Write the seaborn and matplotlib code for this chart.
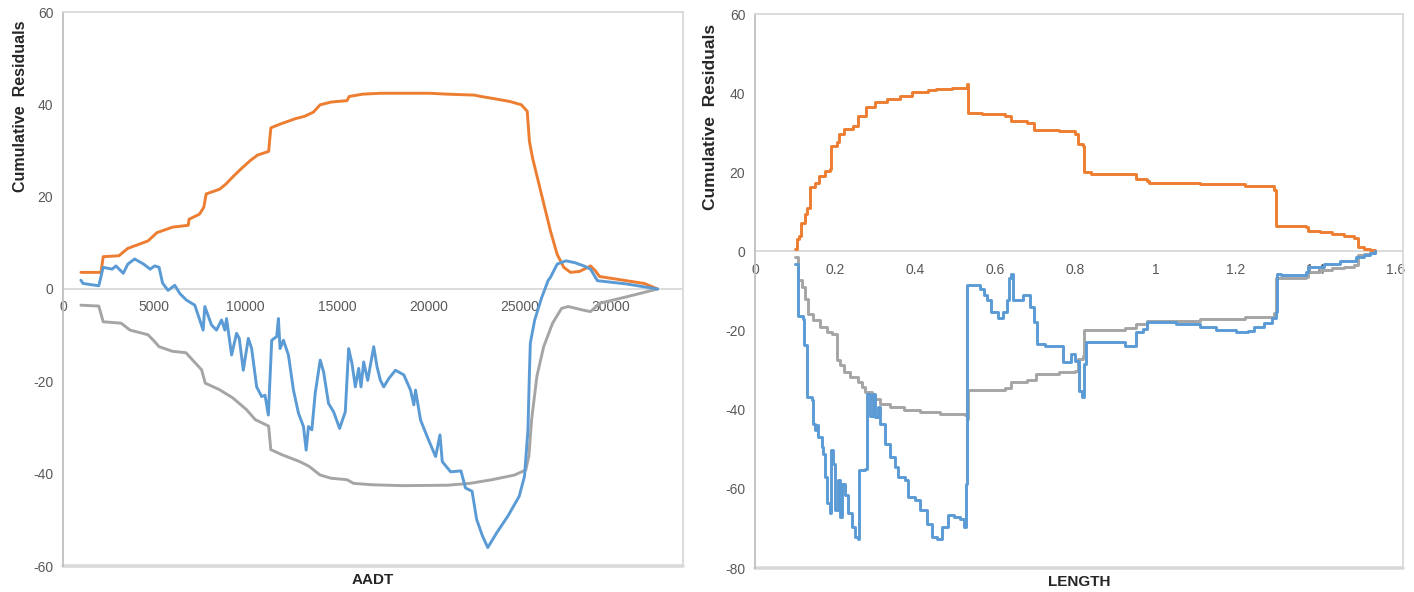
import numpy as np
import pandas as pd
import matplotlib
matplotlib.use("Agg")
import matplotlib.pyplot as plt
import seaborn as sns

# ---------------- data: left panel (AADT) ----------------
aadt_upper_x = [980, 2080, 2200, 3060, 3550, 4650, 5140, 6000, 6860, 6900, 7470, 7710, 7840, 8570,
                8940, 9300, 9800, 10280, 10650, 11260, 11380, 11880, 12730, 13220, 13710, 14080,
                14690, 15550, 15670, 16400, 17380, 20080, 21060, 22530, 22890, 23500, 24490, 25100,
                25420, 25540, 25710, 26200, 26690, 27060, 27420, 27790, 28280, 28890, 29140, 29380,
                30850, 31830, 32560]
aadt_upper_y = [3.6, 3.6, 7.0, 7.2, 8.8, 10.4, 12.2, 13.4, 13.8, 15.1, 16.2, 17.7, 20.6, 21.6,
                22.8, 24.3, 26.2, 27.9, 29.0, 29.8, 34.9, 35.7, 36.9, 37.4, 38.3, 39.9,
                40.5, 40.8, 41.7, 42.2, 42.4, 42.4, 42.2, 42.0, 41.7, 41.3, 40.6, 39.9,
                38.5, 32.0, 28.4, 20.5, 12.6, 7.5, 4.7, 3.6, 3.8, 5.0, 4.0, 2.7,
                1.8, 1.2, 0.0]

aadt_lower_x = [980, 1960, 2200, 3180, 3670, 4650, 5020, 5260, 6000, 6730, 7100, 7590, 7790, 8570,
                9300, 10040, 10530, 11260, 11380, 11990, 12970, 13470, 14080, 14690, 15550, 15910,
                16890, 18610, 21060, 22280, 23500, 24720, 25340, 25510, 25660, 25950, 26320, 26810,
                27300, 27670, 28400, 28890, 29380, 30850, 32560]
aadt_lower_y = [-3.5, -3.7, -7.1, -7.4, -8.9, -9.9, -11.4, -12.5, -13.5, -13.8, -15.4, -17.5, -20.4, -21.8,
                -23.6, -26.1, -28.3, -29.7, -34.8, -35.9, -37.4, -38.4, -40.3, -41.0, -41.3, -42.1,
                -42.4, -42.6, -42.5, -42.1, -41.3, -40.3, -39.2, -36.2, -28.3, -18.9, -12.5, -7.4,
                -4.2, -3.8, -4.5, -4.9, -3.1, -1.7, 0.0]

aadt_cure_x = [980, 1100, 1960, 2200, 2690, 2900, 3300, 3550, 3920, 4410, 4775, 5020, 5260, 5450,
               5750, 6120, 6400, 6758, 7216, 7674, 7766, 8132, 8407, 8681, 8864, 8956, 9231, 9505,
               9652, 9872, 10147, 10330, 10604, 10879, 11062, 11245, 11429, 11703, 11795, 11886,
               12070, 12344, 12619, 12894, 13168, 13315, 13443, 13626, 13810, 14084, 14267, 14542,
               14817, 15147, 15458, 15641, 15824, 16007, 16190, 16319, 16465, 16685, 16832, 17015,
               17198, 17381, 17564, 17839, 18205, 18663, 19029, 19212, 19304, 19579, 19945, 20403,
               20641, 20769, 21227, 21790, 22040, 22400, 22650, 22970, 23260, 23750, 24360, 24980,
               25270, 25460, 25540, 25590, 25830, 26200, 26570, 26690, 27060, 27540, 28030, 28520,
               28890, 29260, 30850, 32560]
aadt_cure_y = [1.9, 1.2, 0.7, 4.7, 4.3, 5.0, 3.4, 5.4, 6.5, 5.4, 4.3, 5.0, 4.7, 1.3,
               -0.3, 0.8, -1.0, -2.4, -3.5, -8.9, -3.8, -7.8, -8.9, -6.7, -8.9, -6.4, -14.3, -9.6,
               -10.7, -17.6, -10.7, -12.9, -21.2, -23.3, -23.0, -27.3, -11.1, -10.3, -6.4, -12.9,
               -11.1, -14.3, -21.9, -26.9, -29.8, -34.9, -29.8, -30.5, -22.6, -15.4, -17.9, -24.8,
               -26.6, -30.2, -26.6, -12.9, -16.1, -21.2, -17.2, -21.2, -15.8, -19.8, -16.5, -12.5,
               -16.9, -19.8, -21.2, -19.4, -17.6, -18.6, -21.9, -25.1, -21.9, -28.4, -32.0, -36.3,
               -31.6, -37.4, -39.6, -39.4, -43.1, -43.8, -49.9, -53.5, -56.0, -52.8, -49.2, -44.9,
               -40.6, -30.5, -18.2, -11.7, -6.7, -2.0, 1.9, 2.5, 5.4, 6.1, 5.7, 5.0,
               4.3, 1.8, 1.1, 0.0]

# ---------------- data: right panel (LENGTH) ----------------
len_upper_x = [0.100, 0.104, 0.111, 0.116, 0.125, 0.130, 0.138, 0.150, 0.161, 0.176, 0.187, 0.190,
               0.204, 0.210, 0.221, 0.244, 0.258, 0.278, 0.300, 0.329, 0.363, 0.391, 0.431, 0.453,
               0.493, 0.521, 0.530, 0.533, 0.567, 0.623, 0.640, 0.680, 0.697, 0.759, 0.799, 0.807,
               0.819, 0.821, 0.839, 0.924, 0.952, 0.980, 0.983, 1.110, 1.223, 1.297, 1.301, 1.377,
               1.382, 1.410, 1.440, 1.470, 1.496, 1.505, 1.520, 1.535, 1.547]
len_upper_y = [0.6, 3.1, 4.0, 7.3, 9.4, 11.1, 16.2, 17.4, 19.1, 20.4, 20.8, 26.7,
               27.6, 29.7, 30.9, 31.8, 34.3, 36.4, 37.7, 38.5, 39.4, 40.2, 40.8, 41.1,
               41.3, 41.3, 42.3, 34.9, 34.7, 34.3, 32.9, 32.4, 30.7, 30.5, 29.8, 27.1,
               26.7, 20.0, 19.6, 19.6, 18.3, 17.9, 17.4, 17.0, 16.6, 15.5, 6.5, 6.1,
               5.2, 4.8, 4.3, 3.9, 3.4, 1.0, 0.6, 0.3, 0.0]

len_lower_x = [0.100, 0.108, 0.117, 0.125, 0.133, 0.146, 0.1625, 0.179, 0.192, 0.204, 0.2125, 0.221,
               0.2375, 0.258, 0.267, 0.275, 0.292, 0.3125, 0.3375, 0.371, 0.4125, 0.4625, 0.525, 0.529,
               0.531, 0.567, 0.623, 0.640, 0.680, 0.701, 0.759, 0.799, 0.807, 0.819, 0.821, 0.924, 0.952,
               0.980, 1.110, 1.223, 1.297, 1.301, 1.377, 1.382, 1.410, 1.440, 1.470, 1.496, 1.505,
               1.520, 1.535, 1.547]
len_lower_y = [-1.4, -7.3, -9.0, -12.0, -15.7, -17.4, -19.1, -20.4, -20.8, -27.5, -28.8, -30.5,
               -31.7, -33.0, -34.3, -35.5, -37.2, -38.5, -39.3, -40.0, -40.6, -41.0, -41.4, -42.3,
               -35.1, -34.9, -34.5, -33.1, -32.6, -31.0, -30.5, -30.1, -27.2, -26.3, -19.8, -19.4, -18.3,
               -17.5, -17.0, -16.6, -15.5, -6.6, -6.4, -5.3, -4.8, -4.3, -3.9, -3.4, -1.0,
               -0.6, -0.3, 0.0]

len_cure_x = [0.100, 0.108, 0.121, 0.1225, 0.129, 0.131, 0.142, 0.144, 0.150, 0.154, 0.158, 0.167,
              0.171, 0.175, 0.181, 0.188, 0.189, 0.196, 0.200, 0.206, 0.2125, 0.217, 0.225, 0.233,
              0.242, 0.250, 0.258, 0.260, 0.275, 0.279, 0.2875, 0.294, 0.300, 0.306, 0.3125, 0.325,
              0.3375, 0.350, 0.358, 0.375, 0.383, 0.400, 0.4125, 0.429, 0.442, 0.454, 0.467, 0.483,
              0.496, 0.5125, 0.521, 0.5275, 0.529, 0.561, 0.572, 0.580, 0.589, 0.606, 0.618, 0.629,
              0.634, 0.640, 0.643, 0.669, 0.686, 0.697, 0.703, 0.725, 0.759, 0.770, 0.788, 0.799,
              0.810, 0.816, 0.821, 0.827, 0.861, 0.924, 0.952, 0.969, 0.980, 0.997, 1.050, 1.110,
              1.150, 1.201, 1.230, 1.246, 1.270, 1.290, 1.301, 1.303, 1.314, 1.377, 1.382, 1.420,
              1.460, 1.501, 1.520, 1.535, 1.547]
len_cure_y = [-3.1, -16.2, -17.0, -23.7, -24.6, -36.8, -37.6, -43.5, -45.2, -43.9, -46.9, -49.4,
              -51.1, -57.0, -63.7, -66.2, -50.3, -53.6, -65.4, -57.8, -67.1, -58.7, -61.6, -66.2,
              -69.6, -72.1, -72.6, -55.3, -54.9, -36.0, -41.5, -36.0, -41.9, -39.4, -43.5, -48.6,
              -52.0, -54.5, -57.0, -57.8, -62.0, -62.9, -65.4, -68.8, -72.1, -72.6, -69.6, -66.7,
              -67.1, -67.5, -69.6, -58.7, -8.6, -9.5, -11.0, -12.4, -15.4, -16.8, -15.4, -12.4,
              -6.6, -5.6, -12.4, -11.1, -14.1, -17.9, -23.4, -23.8, -23.8, -28.0, -25.9, -27.6,
              -35.2, -36.9, -28.4, -22.9, -22.9, -23.8, -20.4, -19.6, -17.9, -17.9, -18.4, -19.2,
              -19.9, -20.4, -20.0, -19.2, -18.2, -16.8, -15.4, -5.7, -5.9, -5.3, -3.9, -3.2,
              -2.4, -1.3, -0.8, -0.4, 0.0]

aadt_ticks = [0, 5000, 10000, 15000, 20000, 25000, 30000]
aadt_yticks = [-60, -40, -20, 0, 20, 40, 60]
len_ticks = [0, 0.2, 0.4, 0.6, 0.8, 1.0, 1.2, 1.4, 1.6]
len_tick_labels = ["0", "0.2", "0.4", "0.6", "0.8", "1", "1.2", "1.4", "1.6"]
len_yticks = [-80, -60, -40, -20, 0, 20, 40, 60]

ORANGE = "#ED7D31"
BLUE = "#5B9BD5"
GRAY = "#A5A5A5"
FRAME = "#D9D9D9"
TICKC = "#595959"

sns.set_style("white")
plt.rcParams["font.family"] = ["Liberation Sans", "DejaVu Sans"]

fig = plt.figure(figsize=(14.14, 5.92), dpi=100)
axL = fig.add_axes([63 / 1414, 1 - 566 / 592, 620 / 1414, 554 / 592])
axR = fig.add_axes([755 / 1414, 1 - 568 / 592, 648 / 1414, 554 / 592])


def draw(ax, series, xlim, ylim, xticks, xtl, yticks, xlabel, drawstyle, ylab_size, ylab_pos):
    for xs, ys, c in series:
        df = pd.DataFrame({"x": xs, "y": ys})
        sns.lineplot(data=df, x="x", y="y", ax=ax, color=c, lw=2.1,
                     estimator=None, sort=False, legend=False, drawstyle=drawstyle)
    ax.set_xlim(*xlim)
    ax.set_ylim(*ylim)
    ax.set_xticks(xticks)
    ax.set_xticklabels(xtl)
    ax.set_yticks(yticks)
    ax.set_yticklabels([str(v) for v in yticks])
    for s in ["top", "right", "left", "bottom"]:
        ax.spines[s].set_visible(True)
        ax.spines[s].set_color(FRAME)
        ax.spines[s].set_linewidth(1.3)
    ax.spines["left"].set_color("#BFBFBF")
    ax.spines["bottom"].set_position(("data", 0))
    ax.spines["bottom"].set_zorder(1)
    ax.axhline(ylim[0], color=FRAME, lw=2.6, clip_on=False, zorder=1)
    ax.tick_params(axis="both", which="major", length=4, width=1, color=FRAME,
                   labelcolor=TICKC, labelsize=10, direction="out")
    ax.tick_params(axis="x", pad=4)
    ax.tick_params(axis="y", pad=3)
    ax.grid(False)
    ax.set_xlabel(xlabel, fontsize=11, fontweight="bold", color="#262626")
    ax.xaxis.set_label_coords(0.5, -0.012)
    ax.set_ylabel("Cumulative  Residuals", fontsize=ylab_size, fontweight="bold", color="#262626")
    ax.yaxis.set_label_coords(*ylab_pos)


draw(axL,
     [(aadt_upper_x, aadt_upper_y, ORANGE), (aadt_lower_x, aadt_lower_y, GRAY),
      (aadt_cure_x, aadt_cure_y, BLUE)],
     (0, 33950), (-60, 60), aadt_ticks, [str(t) for t in aadt_ticks], aadt_yticks, "AADT",
     "default", 11.5, (-0.056, 0.83))
draw(axR,
     [(len_upper_x, len_upper_y, ORANGE), (len_lower_x, len_lower_y, GRAY),
      (len_cure_x, len_cure_y, BLUE)],
     (0, 1.618), (-80, 60), len_ticks, len_tick_labels, len_yticks, "LENGTH",
     "steps-post", 12.5, (-0.057, 0.815))

fig.savefig("out.png", dpi=100)
